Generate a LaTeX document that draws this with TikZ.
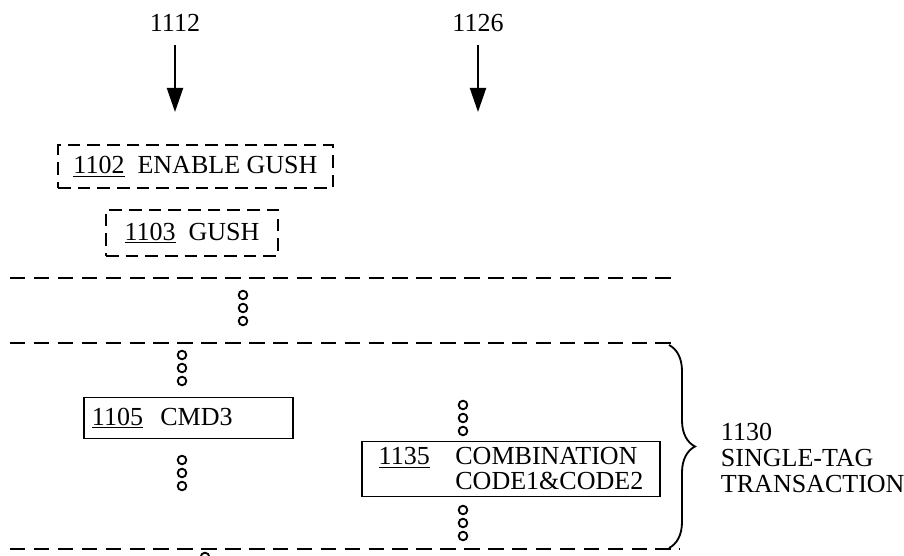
\documentclass[tikz,border=0pt]{standalone}
\usepackage{fontspec}
\setmainfont{Liberation Serif}
\usepackage{tikz}
\usetikzlibrary{arrows.meta,positioning,decorations.pathreplacing}

\begin{document}
\begin{tikzpicture}[x=0.025cm, y=0.025cm, font=\fontsize{18.5}{17}\selectfont,
    dbox/.style={draw, line width=1.4pt, dash pattern=on 9pt off 5pt, inner sep=0pt},
    sbox/.style={draw, line width=1.2pt, inner sep=0pt},
    sep/.style={line width=1.4pt, dash pattern=on 11pt off 6pt},
    arr/.style={-{Triangle[length=0.6cm, width=0.4cm]}, line width=1.4pt},
    ooo/.pic={\foreach \k in {0,1,2} \draw[line width=1.3pt] (0,-\k*13) circle[radius=4.3];}]
  \clip (0,0) rectangle (904,555);
  \useasboundingbox (0,0) rectangle (904,555);

  % column heads
  \node (t1112) at (175,532) {1112};
  \node (t1126) at (478,532) {1126};
  \coordinate (h1112) at (175,443);
  \coordinate (h1126) at (478,443);
  \draw[arr, shorten <=6pt] (t1112) -- (h1112);
  \draw[arr, shorten <=6pt] (t1126) -- (h1126);

  % gush commands
  \node[dbox, minimum width=6.875cm, minimum height=1.075cm] (enable) at (195.5,388.5)
    {\underline{1102}\ \ ENABLE GUSH\hspace{4mm}};
  \node[dbox, minimum width=4.3cm, minimum height=1.15cm] (gush) at (192,322)
    {\underline{1103}\ \ GUSH\hspace{2mm}};

  % separators
  \coordinate (s1w) at (10,277);  \coordinate (s1e) at (678,277);
  \coordinate (s2w) at (10,212);  \coordinate (s2e) at (672,212);
  \coordinate (s3w) at (10,6);    \coordinate (s3e) at (680,6);
  \draw[sep] (s1w) -- (s1e);
  \draw[sep] (s2w) -- (s2e);
  \draw[sep] (s3w) -- (s3e);
  \pic at (243,260) {ooo};

  % single-tag transaction
  \pic at (182,200) {ooo};
  \node[sbox, minimum width=5.225cm, minimum height=1.025cm, text width=4.825cm, align=left]
    (cmd) at (188.5,137) {\underline{1105}\ \ CMD3};
  \pic at (182,95) {ooo};
  \pic at (463,150) {ooo};
  \node[sbox, minimum width=7.45cm, minimum height=1.3cm] (combo) at (511,86)
    {\begin{tabular}{@{}l@{\hspace{0.64cm}}l@{}}\rule{0pt}{16.4pt}\underline{1135} & COMBINATION\\ & CODE1\&CODE2\end{tabular}};
  \pic at (463,45) {ooo};
  \pic at (205,-2) {ooo};

  \coordinate (btop) at (669,210);
  \coordinate (bbot) at (669,7);
  \draw[decorate, decoration={brace, amplitude=0.65cm}, line width=1.3pt] (btop) -- (bbot);
  \node[anchor=west, align=left, font=\fontsize{18.5}{18.5}\selectfont] (txn) at (716,97)
    {1130\\SINGLE-TAG\\TRANSACTION};
\end{tikzpicture}
\end{document}
